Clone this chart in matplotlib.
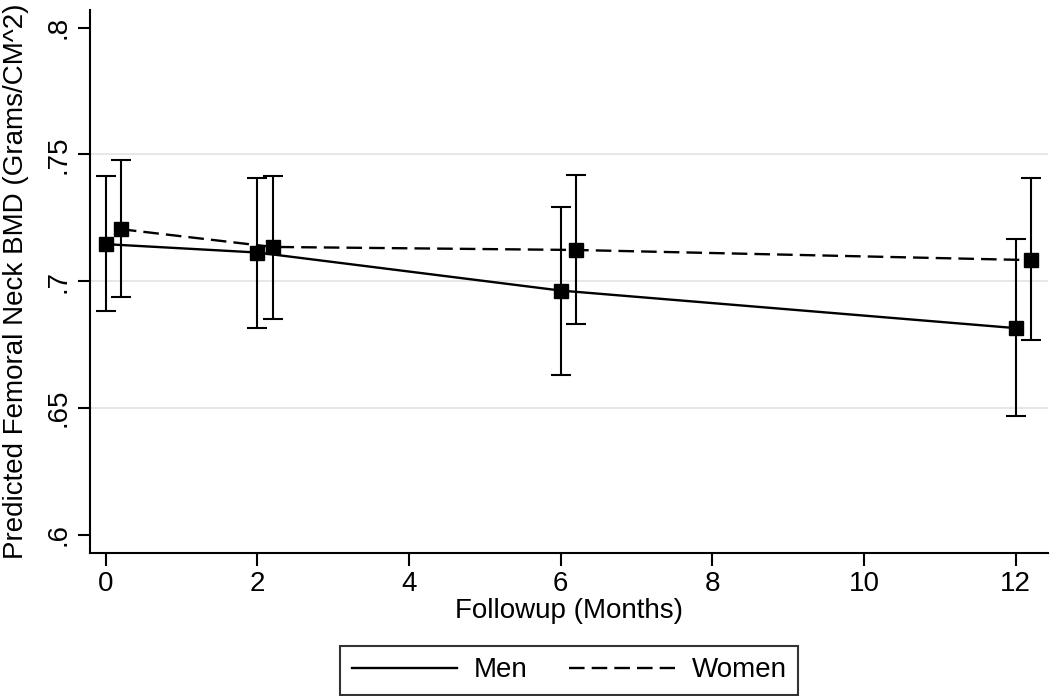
import matplotlib
matplotlib.use("Agg")
import matplotlib.pyplot as plt

# Predicted femoral neck BMD by follow-up month (men / women)
months = [0, 2, 6, 12]
offset = 0.2  # women plotted slightly right of men

men_bmd = [0.7146, 0.7113, 0.6963, 0.6815]
men_lo = [0.6884, 0.6815, 0.6630, 0.6467]
men_hi = [0.7414, 0.7406, 0.7291, 0.7168]

women_bmd = [0.7205, 0.7135, 0.7123, 0.7083]
women_lo = [0.6939, 0.6852, 0.6831, 0.6769]
women_hi = [0.7476, 0.7414, 0.7417, 0.7406]

y_ticks = [0.6, 0.65, 0.7, 0.75, 0.8]
y_tick_labels = [".6", ".65", ".7", ".75", ".8"]
x_ticks = [0, 2, 4, 6, 8, 10, 12]

plt.rcParams["font.family"] = ["Liberation Sans", "DejaVu Sans"]
fs = 20

fig = plt.figure(figsize=(10.5, 6.96), dpi=100)
ax = fig.add_axes([0.0857, 0.206, 0.912, 0.78])

# light grid at inner ticks only
for g in y_ticks[1:-1]:
    ax.axhline(g, color="#e3e3e3", lw=1.2, zorder=0)


def draw_group(x, y, lo, hi, ls, label):
    yerr = [[a - b for a, b in zip(y, lo)], [b - a for a, b in zip(y, hi)]]
    ax.errorbar(x, y, yerr=yerr, fmt="none", ecolor="black", elinewidth=1.5,
                capsize=7.5, capthick=1.5, zorder=2)
    ax.plot(x, y, color="black", lw=1.7, linestyle=ls, label=label, zorder=3)
    ax.plot(x, y, linestyle="none", marker="s", markersize=10.5,
            color="black", zorder=4)


draw_group(months, men_bmd, men_lo, men_hi, "-", "Men")
draw_group([m + offset for m in months], women_bmd, women_lo, women_hi,
           (0, (6.6, 3.0)), "Women")

ax.set_xlim(-0.207, 12.42)
ax.set_ylim(0.593, 0.807)
ax.set_xticks(x_ticks)
ax.set_yticks(y_ticks)
ax.set_yticklabels(y_tick_labels, rotation=90, va="center")
ax.tick_params(axis="both", length=9, width=1.5, labelsize=fs, pad=4)

for side in ["top", "right"]:
    ax.spines[side].set_visible(False)
for side in ["left", "bottom"]:
    ax.spines[side].set_linewidth(1.5)

ax.set_xlabel("Followup (Months)", fontsize=fs, labelpad=1)
ax.set_ylabel("Predicted Femoral Neck BMD (Grams/CM^2)", fontsize=fs,
              labelpad=12)

leg = fig.legend(loc="center", bbox_to_anchor=(0.542, 0.037), ncol=2,
                 fontsize=fs, frameon=True, fancybox=False,
                 edgecolor="black", handlelength=3.8, handletextpad=0.6,
                 columnspacing=1.5, borderpad=0.42)
leg.get_frame().set_linewidth(1.5)

fig.savefig("out.png", dpi=100)
